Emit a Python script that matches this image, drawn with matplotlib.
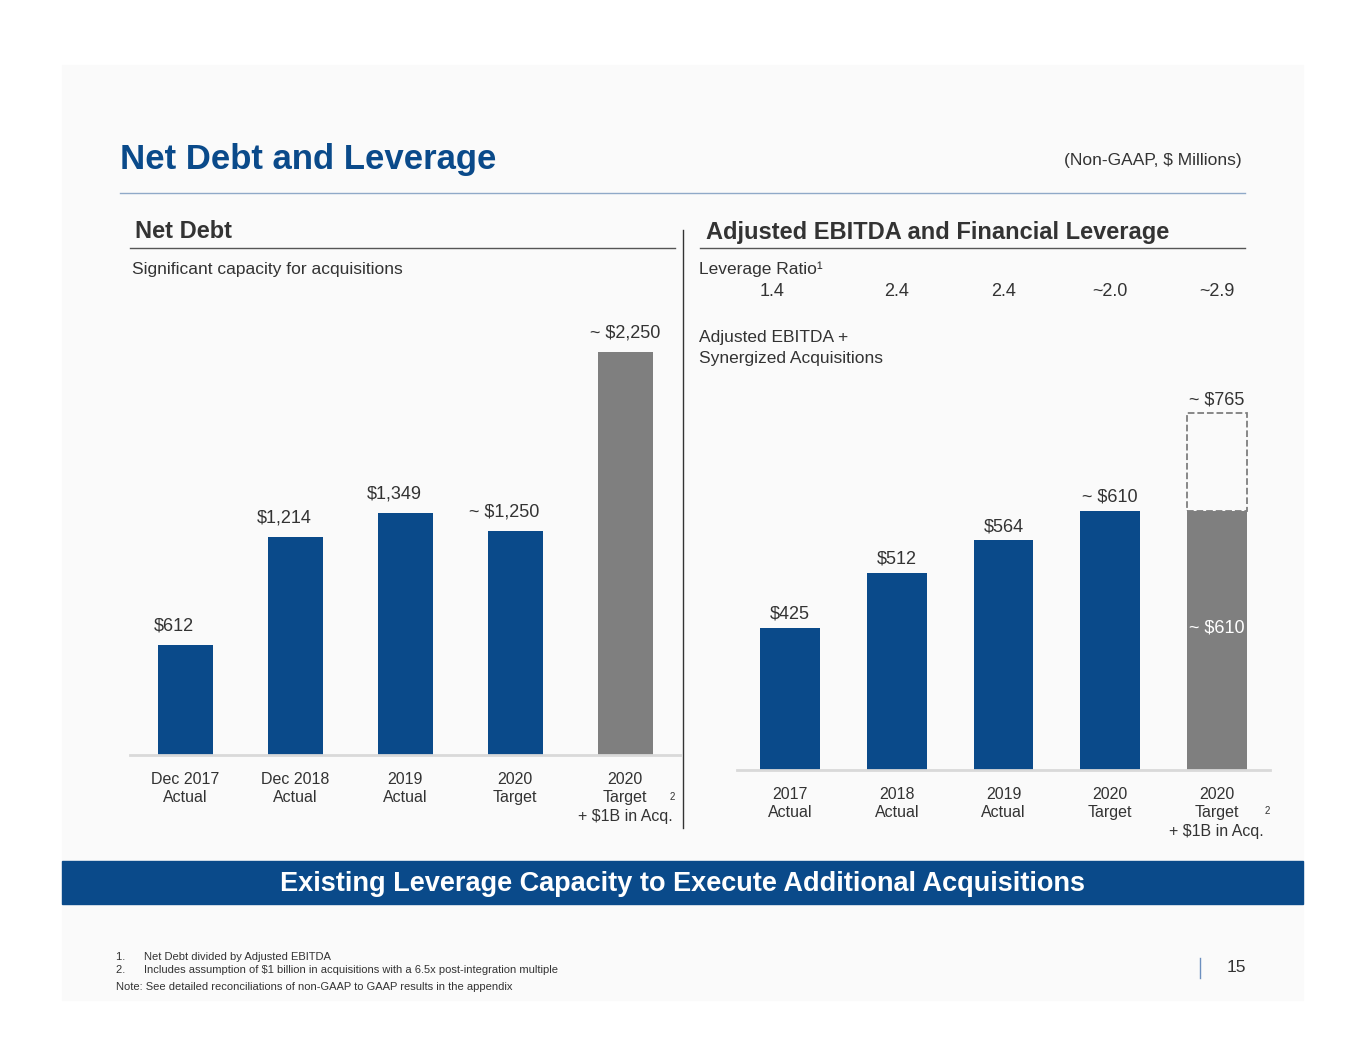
import matplotlib.pyplot as plt
from matplotlib.patches import Rectangle

plt.rcParams['font.family'] = ['Liberation Sans', 'DejaVu Sans']

# DATA
nd_labels = ['Dec 2017\nActual', 'Dec 2018\nActual', '2019\nActual', '2020\nTarget', '2020\nTarget\n+ $1B in Acq.']
nd_values = [612, 1214, 1349, 1250, 2250]
nd_text = ['$612', '$1,214', '$1,349', '~ $1,250', '~ $2,250']
eb_labels = ['2017\nActual', '2018\nActual', '2019\nActual', '2020\nTarget', '2020\nTarget\n+ $1B in Acq.']
eb_values = [425, 512, 564, 610, 610]
eb_text = ['$425', '$512', '$564', '~ $610', '~ $610']
eb_extra = 765
lev_ratio = ['1.4', '2.4', '2.4', '~2.0', '~2.9']

BLUE = '#0a4a8a'
GREY = '#7f7f7f'
W, H = 1365, 1055

def fx(x): return x / W
def fy(y): return 1 - y / H

fig = plt.figure(figsize=(13.65, 10.55), dpi=100)
fig.patches.append(Rectangle((fx(62), fy(1000)), fx(1303 - 62), (1000 - 65) / H,
                             transform=fig.transFigure, color='#fafafa', zorder=-10))

def t(x, y, s, **kw):
    kw.setdefault('fontsize', 12.5)
    kw.setdefault('color', '#333333')
    fig.text(fx(x), fy(y), s, **kw)

# HEADER
t(120, 160, 'Net Debt and Leverage', fontsize=25, fontweight='bold', color=BLUE, va='center')
t(1242, 161, '(Non-GAAP, $ Millions)', fontsize=12.5, ha='right', va='center')
fig.add_artist(plt.Line2D([fx(120), fx(1245)], [fy(193)] * 2, color='#8fa9c8', lw=1))
t(135, 232, 'Net Debt', fontsize=17, fontweight='bold', va='center')
t(706, 232, 'Adjusted EBITDA and Financial Leverage', fontsize=17, fontweight='bold', va='center')
fig.add_artist(plt.Line2D([fx(130), fx(675)], [fy(248)] * 2, color='#555555', lw=1))
fig.add_artist(plt.Line2D([fx(700), fx(1245)], [fy(248)] * 2, color='#555555', lw=1))
fig.add_artist(plt.Line2D([fx(683)] * 2, [fy(230), fy(828)], color='#333333', lw=1))
t(132, 269, 'Significant capacity for acquisitions', va='center')
t(699, 269, 'Leverage Ratio¹', va='center')
t(699, 337, 'Adjusted EBITDA +', va='center')
t(699, 358, 'Synergized Acquisitions', va='center')

# LEFT CHART
ax1 = fig.add_axes([fx(130), fy(755), fx(680 - 130), (755 - 300) / H])
x1 = range(len(nd_values))
cols = [BLUE] * 4 + [GREY]
ax1.bar(x1, nd_values, width=0.5, color=cols)
ax1.set_xlim(-0.5, 4.5)
ax1.set_ylim(0, 455 * 5.58)
for i, (v, s) in enumerate(zip(nd_values, nd_text)):
    ax1.text(i - 0.1 if i < 4 else i, v + 60, s, ha='center', va='bottom', fontsize=13, color='#333333')
ax1.set_xticks(list(x1))
ax1.set_xticklabels(nd_labels, fontsize=11.5, color='#333333', linespacing=1.3)
ax1.tick_params(length=0, pad=12)
for sp in ax1.spines.values():
    sp.set_visible(False)
ax1.spines['bottom'].set_visible(True)
ax1.spines['bottom'].set_color('#d9d9d9')
ax1.spines['bottom'].set_linewidth(2)
ax1.set_yticks([])
ax1.patch.set_alpha(0)
t(670, 800, '2', fontsize=7)

# RIGHT CHART
ax2 = fig.add_axes([fx(737), fy(770), fx(1270 - 737), (770 - 300) / H])
x2 = range(len(eb_values))
ax2.bar(x2, eb_values, width=0.56, color=cols)
ax2.bar(4, eb_extra - eb_values[4], bottom=eb_values[4], width=0.56, fill=False,
        edgecolor=GREY, linestyle='--', lw=1.3)
ax2.set_xlim(-0.5, 4.5)
ax2.set_ylim(200, 200 + 470 / 0.6317)
for i, (v, s) in enumerate(zip(eb_values[:4], eb_text[:4])):
    ax2.text(i, v + 8, s, ha='center', va='bottom', fontsize=13, color='#333333')
ax2.text(4, 425, eb_text[4], ha='center', va='center', fontsize=13, color='white')
ax2.text(4, eb_extra + 8, '~ $765', ha='center', va='bottom', fontsize=13, color='#333333')
ax2.set_xticks(list(x2))
ax2.set_xticklabels(eb_labels, fontsize=11.5, color='#333333', linespacing=1.3)
ax2.tick_params(length=0, pad=12)
for sp in ax2.spines.values():
    sp.set_visible(False)
ax2.spines['bottom'].set_visible(True)
ax2.spines['bottom'].set_color('#d9d9d9')
ax2.spines['bottom'].set_linewidth(2)
ax2.set_yticks([])
ax2.patch.set_alpha(0)
for i, r in enumerate(lev_ratio):
    ax2.text(i - 0.17 if i == 0 else i, 1.0, r, transform=ax2.get_xaxis_transform(),
             ha='center', va='bottom', fontsize=13, color='#333333')
t(1265, 814, '2', fontsize=7)

# BANNER
fig.patches.append(Rectangle((fx(62), fy(904)), fx(1303 - 62), 43 / H,
                             transform=fig.transFigure, color=BLUE, zorder=1))
t(683, 884, 'Existing Leverage Capacity to Execute Additional Acquisitions', fontsize=19.5,
  fontweight='bold', color='white', ha='center', va='center')

# FOOTNOTES
t(116, 957, '1.      Net Debt divided by Adjusted EBITDA', fontsize=8, va='center')
t(116, 970, '2.      Includes assumption of $1 billion in acquisitions with a 6.5x post-integration multiple', fontsize=8, va='center')
t(116, 987, 'Note: See detailed reconciliations of non-GAAP to GAAP results in the appendix', fontsize=8, va='center')
fig.add_artist(plt.Line2D([fx(1200)] * 2, [fy(958), fy(978)], color='#6c8fbf', lw=1))
t(1246, 968, '15', fontsize=12.5, ha='right', va='center')

fig.savefig('out.png', dpi=100)
